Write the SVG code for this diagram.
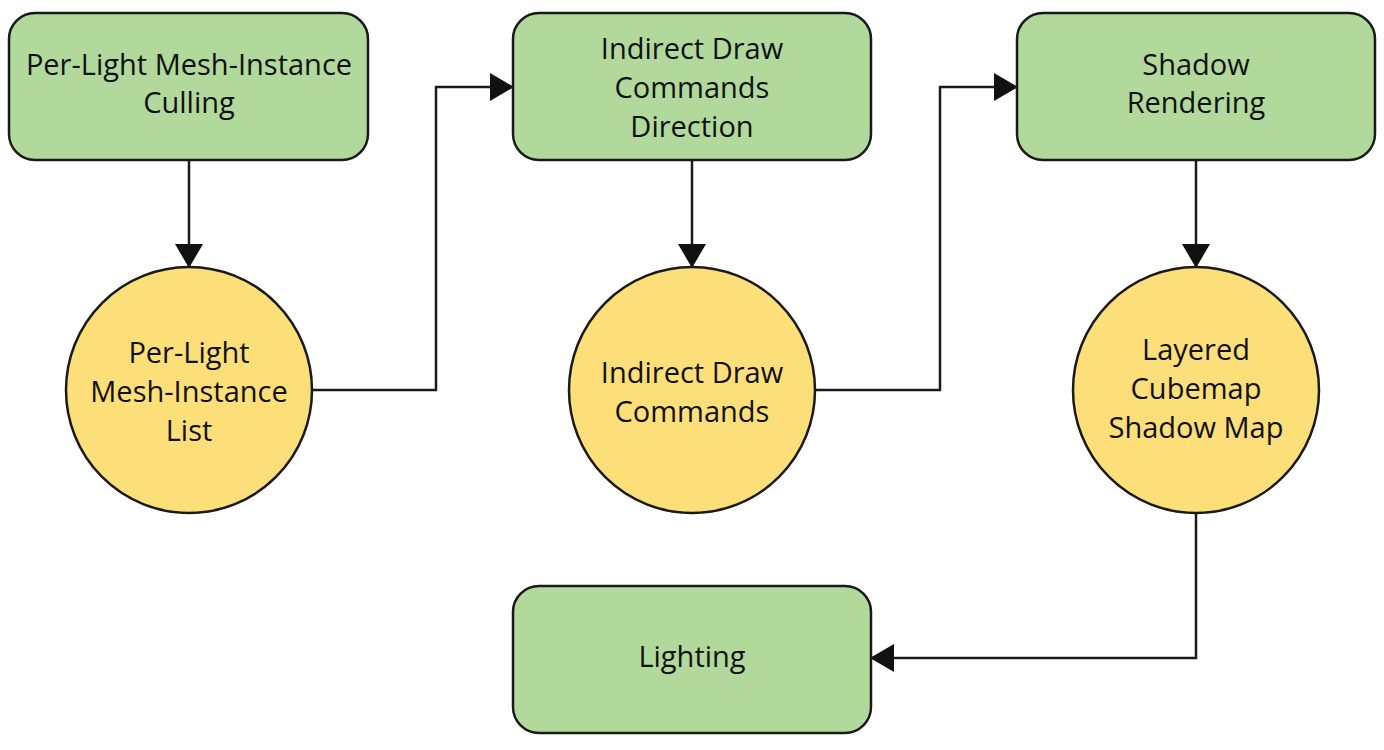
<svg xmlns="http://www.w3.org/2000/svg" width="1384" height="750" viewBox="0 0 1384 750">
<style>
.box{fill:#b0d99b;stroke:#1a1a1a;stroke-width:2.5}
.circ{fill:#fddf7a;stroke:#1a1a1a;stroke-width:2.5}
.lbl{font-family:"Open Sans","Liberation Sans",sans-serif;font-size:29px;fill:#111;text-anchor:middle}
.edge{fill:none;stroke:#1a1a1a;stroke-width:2.5;marker-end:url(#ah)}
</style>
<defs>
<marker id="ah" markerUnits="userSpaceOnUse" markerWidth="24" markerHeight="28" refX="23" refY="14" orient="auto">
<path d="M0,0 L24,14 L0,28 Z" fill="#111"/>
</marker>
</defs>
<rect width="1384" height="750" fill="#fff"/>
<g id="connectors">
<path class="edge" d="M189,160 V267"/>
<path class="edge" d="M313,390 H436 V87 H513"/>
<path class="edge" d="M692,160 V267"/>
<path class="edge" d="M815,390 H940 V87 H1017"/>
<path class="edge" d="M1196,160 V267"/>
<path class="edge" d="M1196,513 V658 H871"/>
</g>
<g id="n1">
<rect class="box" x="9" y="13" width="359" height="147" rx="26"/>
<text class="lbl" x="189" y="75">Per-Light Mesh-Instance</text>
<text class="lbl" x="189" y="113">Culling</text>
</g>
<g id="n2">
<rect class="box" x="513" y="13" width="358" height="147" rx="26"/>
<text class="lbl" x="692" y="59">Indirect Draw</text>
<text class="lbl" x="692" y="98">Commands</text>
<text class="lbl" x="692" y="137">Direction</text>
</g>
<g id="n3">
<rect class="box" x="1017" y="13" width="358" height="147" rx="26"/>
<text class="lbl" x="1196" y="75">Shadow</text>
<text class="lbl" x="1196" y="113">Rendering</text>
</g>
<g id="c1">
<circle class="circ" cx="189" cy="390" r="123"/>
<text class="lbl" x="189" y="363">Per-Light</text>
<text class="lbl" x="189" y="402">Mesh-Instance</text>
<text class="lbl" x="189" y="441">List</text>
</g>
<g id="c2">
<circle class="circ" cx="692" cy="390" r="123"/>
<text class="lbl" x="692" y="383">Indirect Draw</text>
<text class="lbl" x="692" y="422">Commands</text>
</g>
<g id="c3">
<circle class="circ" cx="1196" cy="390" r="123"/>
<text class="lbl" x="1196" y="360">Layered</text>
<text class="lbl" x="1196" y="399">Cubemap</text>
<text class="lbl" x="1196" y="438">Shadow Map</text>
</g>
<g id="n4">
<rect class="box" x="513" y="586" width="358" height="147" rx="26"/>
<text class="lbl" x="692" y="667">Lighting</text>
</g>
</svg>
